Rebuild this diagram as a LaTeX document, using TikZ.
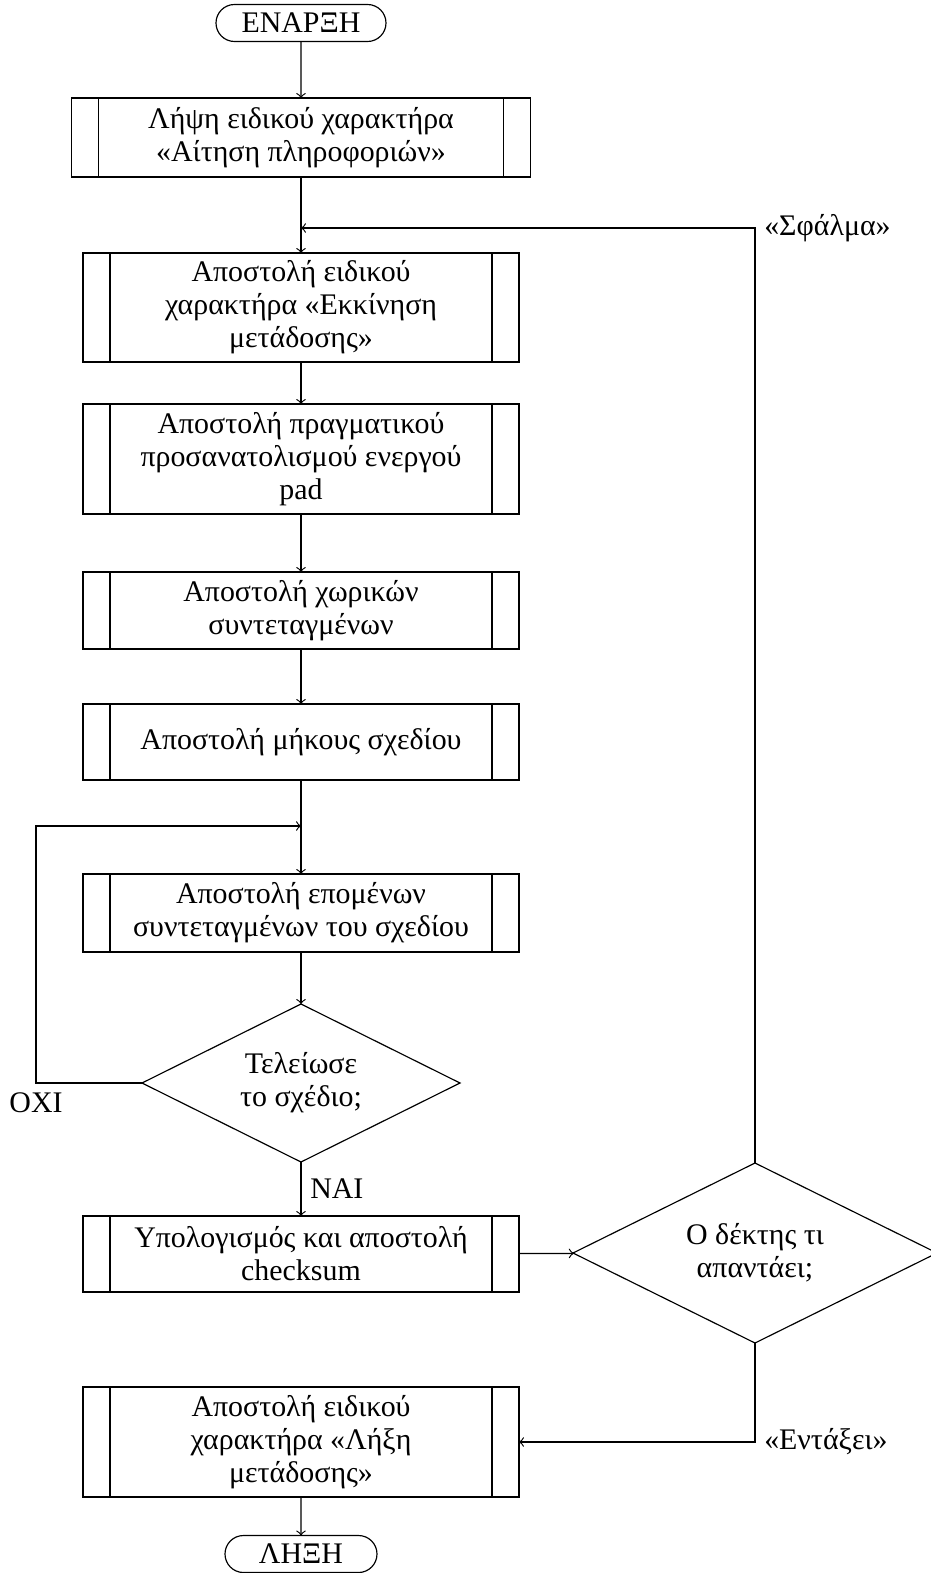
\documentclass[tikz,border=0pt]{standalone}
\usepackage{fontspec}
\setmainfont{Liberation Serif}
\usetikzlibrary{shapes.geometric,shapes.misc}
% one drawing unit
\newcommand\pxu{0.3846pt}
\begin{document}
\begin{tikzpicture}[x=\pxu, y=-\pxu,
  every path/.style={line width=0.45pt},
  every node/.style={font=\fontsize{11.5}{12.7}\selectfont},
  terminal/.style={draw, rounded rectangle, minimum height=37*\pxu,
    inner sep=0pt, outer sep=0pt},
  procbox/.style={draw, rectangle, align=center, inner sep=0pt, outer sep=0pt,
    minimum width=436*\pxu,
    path picture={
      \draw ([xshift=27*\pxu]path picture bounding box.south west) --
            ([xshift=27*\pxu]path picture bounding box.north west);
      \draw ([xshift=-27*\pxu]path picture bounding box.south east) --
            ([xshift=-27*\pxu]path picture bounding box.north east);
    }},
  decision/.style={draw, diamond, aspect=2, align=center, inner sep=0pt, outer sep=0pt},
  flow/.style={->}
]
\useasboundingbox (0,0) rectangle (930,1573);

% nodes of the main column
\node[terminal, minimum width=170*\pxu] (start) at (301,23) {ΕΝΑΡΞΗ};
\node[procbox, minimum width=459*\pxu, minimum height=79*\pxu] (b1) at (301,137.5)
  {Λήψη ειδικού χαρακτήρα\\«Αίτηση πληροφοριών»};
\node[procbox, minimum height=109*\pxu] (b2) at (301,307.5)
  {Αποστολή ειδικού\\χαρακτήρα «Εκκίνηση\\μετάδοσης»};
\node[procbox, minimum height=110*\pxu] (b3) at (301,459)
  {Αποστολή πραγματικού\\προσανατολισμού ενεργού\\pad};
\node[procbox, minimum height=77*\pxu] (b4) at (301,610.5)
  {Αποστολή χωρικών\\συντεταγμένων};
\node[procbox, minimum height=76*\pxu] (b5) at (301,742)
  {Αποστολή μήκους σχεδίου};
\node[procbox, minimum height=78*\pxu] (b6) at (301,913)
  {Αποστολή επομένων\\συντεταγμένων του σχεδίου};
\node[decision, minimum width=318*\pxu, minimum height=158*\pxu] (d1) at (301,1083)
  {Τελείωσε\\το σχέδιο;};
\node[procbox, minimum height=76*\pxu] (b7) at (301,1254)
  {Υπολογισμός και αποστολή\\checksum};
\node[decision, minimum width=364*\pxu, minimum height=180*\pxu] (d2) at (755,1253)
  {Ο δέκτης τι\\απαντάει;};
\node[procbox, minimum height=110*\pxu] (b8) at (301,1442)
  {Αποστολή ειδικού\\χαρακτήρα «Λήξη\\μετάδοσης»};
\node[terminal, minimum width=152*\pxu] (end) at (301,1554) {ΛΗΞΗ};

% junction points of the loops
\coordinate (join1) at (301,228);
\coordinate (errc) at (755,228);
\coordinate (join2) at (301,826);
\coordinate (noc1) at (36,1083);
\coordinate (noc2) at (36,826);
\coordinate (okc) at (755,1442);

% straight connectors
\draw[flow] (start) -- (b1);
\draw[flow] (b1) -- (b2);
\draw[flow] (b2) -- (b3);
\draw[flow] (b3) -- (b4);
\draw[flow] (b4) -- (b5);
\draw[flow] (b5) -- (b6);
\draw[flow] (b6) -- (d1);
\draw[flow] (d1) -- node[right] (yes) {ΝΑΙ} (b7);
\draw[flow] (b7) -- (d2);
\draw[flow] (b8) -- (end);

% loops
\draw[flow] (d1.west) -- (noc1) -- (noc2) -- (join2);
\node[below] (no) at (noc1) {ΟΧΙ};
\draw[flow] (d2.north) -- (errc) -- (join1);
\node[right] (err) at (errc) {«Σφάλμα»};
\draw[flow] (d2.south) -- (okc) -- (b8.east);
\node[right] (ok) at (okc) {«Εντάξει»};
\end{tikzpicture}
\end{document}
